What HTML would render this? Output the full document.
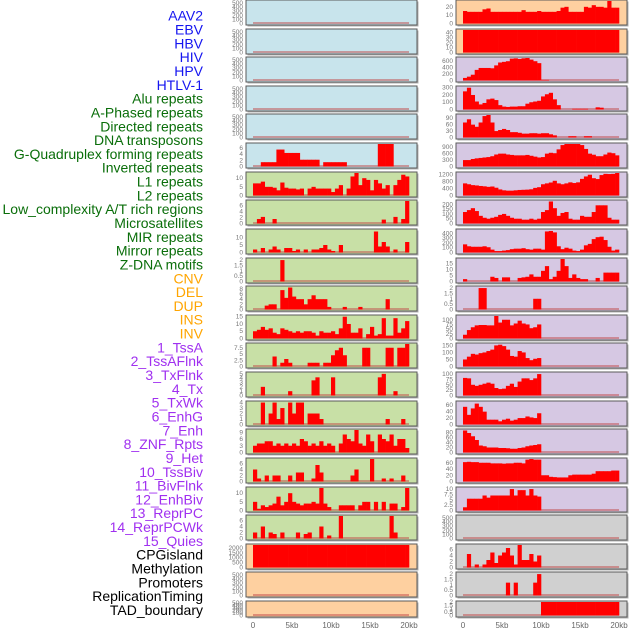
<!DOCTYPE html>
<html><head><meta charset="utf-8"><style>
html,body{margin:0;padding:0;background:#fff;width:630px;height:630px;overflow:hidden}
svg{display:block}
.lab{font-family:"Liberation Sans",sans-serif;font-size:14px}
.tk{font-family:"Liberation Sans",sans-serif;font-size:6.5px;fill:#777}
.xt{font-family:"Liberation Sans",sans-serif;font-size:8px;fill:#666}
</style></head><body>
<svg id="chart" width="630" height="630" viewBox="0 0 630 630" xmlns="http://www.w3.org/2000/svg"></svg>
<script>
const labels = ["AAV2","EBV","HBV","HIV","HPV","HTLV-1","Alu repeats","A-Phased repeats","Directed repeats","DNA transposons","G-Quadruplex forming repeats","Inverted repeats","L1 repeats","L2 repeats","Low_complexity A/T rich regions","Microsatellites","MIR repeats","Mirror repeats","Z-DNA motifs","CNV","DEL","DUP","INS","INV","1_TssA","2_TssAFlnk","3_TxFlnk","4_Tx","5_TxWk","6_EnhG","7_Enh","8_ZNF_Rpts","9_Het","10_TssBiv","11_BivFlnk","12_EnhBiv","13_ReprPC","14_ReprPCWk","15_Quies","CPGisland","Methylation","Promoters","ReplicationTiming","TAD_boundary"];
const labelColors = ["#1515f0","#1515f0","#1515f0","#1515f0","#1515f0","#1515f0","#0a6e0a","#0a6e0a","#0a6e0a","#0a6e0a","#0a6e0a","#0a6e0a","#0a6e0a","#0a6e0a","#0a6e0a","#0a6e0a","#0a6e0a","#0a6e0a","#0a6e0a","#ffa500","#ffa500","#ffa500","#ffa500","#ffa500","#a030f0","#a030f0","#a030f0","#a030f0","#a030f0","#a030f0","#a030f0","#a030f0","#a030f0","#a030f0","#a030f0","#a030f0","#a030f0","#a030f0","#a030f0","#000","#000","#000","#000","#000"];
const xTickKb = [0,5,10,15,20];
const xTickLabels = ["0","5kb","10kb","15kb","20kb"];

const tkEmpty = [0,100,200,300,400,500];
const L5 = [0,0,1.4,1.4,1.4,1.4,5.5,5.5,4.4,4.4,4.4,4.4,2.2,2.2,2.2,2.2,2.2,0,1.4,1.4,1.4,1.4,1.4,1.4,0,0,0,0,0,0,0,0,7.5,7.5,7.5,7.5,0,0,0,0];
const L6 = [7,7,8,5,5,4.5,3,7.5,4.5,4,4,3.5,4,0,4,5,4,4,4,4,2,4,6,0,4,11,13,6,10,9,3,9,7,4,6,0,6,9,12,11];
const L7 = [0,1.5,2.2,0,0,1.5,0,0,0,0,0,0,0,0,0,0,0,0,0,0,0,0,0,0,0,0,0,0,0,0,0,0,0,1.3,0,0,2.2,0,1.5,7.5];
const L8 = [2,0,3,0,2,4,2,0,3,3,1,2,0,2,0,2,2,3,5,2,1,0,5,0,0,0,0,0,0,0,0,14,4,7,4,0,2,0,0,7];
const L9 = [0,0,0,0,0,0,0,2,0,0,0,0,0,0,0,0,0,0,0,0,0,0,0,0,0,0,0,0,0,0,0,0,0,0,0,0,0,0,0,0];
const L10 = [0,0,0,1.5,2,2,0,7.5,4.5,8.5,5,4,4,2,4,5.5,4,4,4,1,0,0,0,1,0,0,0,1,0,0,0,0,0,0,4,0,0,0,0,0];
const L11 = [5,6,8,6,7,4,3,7,6,5,4,5,4,5,5,4,2,5,4,4,5,3,7,15,10,4,4,7,0,3,8,2,3,14,2,2,14,4,7,12];
const L12 = [0,0,0,0,0,4,0,1.5,3,1.5,0,0,0,0,1.5,1.5,1.5,0,1.5,1.5,4.5,6.5,7.5,4.5,0,0,0,0,7.5,7.5,0,0,0,0,7.5,7.5,0,7.5,7.5,9];
const L13 = [0,0,2,0,0,0,0,0,0,1,0,0,0,0,0,3.5,4.2,0,0,0,4.2,0,0,0,0,0,0,0,0,0,0,0,4.2,5,0,0,1,0,0,0];
const L14 = [0,0,4,0,2,4,1,3,0,4,2,4,4,0,2,2,2,1,0,0,0,0,0,0,0,0,0,0,0,0,0,0,0,0,1,0,0,0,1,0];
const L15 = [3,4,4,5,5,3,4,3,4,3,4,3,6,5,3,4,3,5,3,4,3,0,4,8,6,5,10,4,3,8,5,0,8,6,5,8,3,6,6,2];
const L16 = [4,1,0,2,0,2,2,0,0,2,0,3,3,0,0,1,5.5,3,0,0,0,0,0,0,0,2,4,0,0,0,7.5,0,0,1,0,1,0,0,2,0];
const L17 = [5,1,3,2,3,4,8,3,5,10,5,4,3,4,4,5,4,13,4,2,0,0,3,3,3,3,0,3,5,5,0,5,0,5,0,4,4,0,2,13];
const L18 = [2,0,4,0,2,1.5,0,2,0,0,0,2,0,1.5,2,0,0,4,0,1,0,0,7.5,0,0,0,0,0,0,0,0,0,0,0,0,7.5,2,0,0,0];
const L19 = [2300,2300,2300,2300,2300,2300,2300,2300,2300,2300,2300,2300,2300,2300,2300,2300,2300,2300,2300,2300,2300,2300,2300,2300,2300,2300,2300,2300,2300,2300,2300,2300,2300,2300,2300,2300,2300,2300,2300,2300];

const R0 = [15,14,14,14,14,17,18,14,14,14,14,14,14,14,14,16,14,14,14,15,14,14,14,14,15,19,20,14,14,14,14,20,19,22,20,20,19,27,19,19];
const R1 = [45,45,45,45,45,45,45,45,45,45,45,45,45,45,45,45,45,45,45,45,45,45,45,45,45,45,45,45,45,45,45,45,45,45,45,45,45,45,45,45];
const R2 = [80,120,180,330,390,390,390,380,470,560,580,600,680,690,670,690,700,650,600,540,20,20,0,0,0,0,0,0,0,0,0,0,0,0,0,0,0,0,0,0];
const R3 = [250,300,200,110,70,90,140,150,130,60,40,35,40,40,45,45,80,100,110,120,180,210,230,140,60,0,0,0,10,10,10,10,0,0,30,25,0,0,0,0];
const R4 = [70,85,60,50,70,100,105,70,30,35,40,35,25,25,22,18,18,20,20,18,20,20,15,10,0,0,0,6,6,0,0,6,6,0,0,0,0,0,0,0];
const R5 = [300,300,350,380,400,420,440,480,560,600,600,560,540,520,520,520,540,500,460,420,440,600,640,620,800,1000,1050,1050,1050,1050,1000,820,600,550,480,480,560,650,620,520];
const R6 = [700,650,600,580,550,530,500,520,450,350,300,280,280,300,320,330,340,360,440,480,650,700,750,850,700,650,700,760,720,760,960,1100,1200,1000,950,1180,1250,1240,1250,1300];
const R7 = [120,140,160,130,80,60,50,60,70,90,100,80,60,50,50,40,40,50,40,50,120,140,230,160,80,110,120,50,40,40,80,70,70,120,190,190,190,60,40,40];
const R8 = [170,130,120,120,120,130,110,60,30,30,40,50,70,80,80,90,70,60,80,80,60,440,450,420,130,70,100,80,40,30,60,150,180,280,320,330,260,120,40,60];
const R9 = [2,0,0,0,0,0,0,4,3,0,3.5,3.5,0,0,3,3.5,4,6,4,4,9,13,2,4,9,19,13,3,6,3,2,2,0,0,3,0,7.5,7.5,7.5,7.5];
const R10 = [0,0,0,0,2,2,0,0,0,0,0,0,0,0,0,0,0,0,1,1,0,0,0,0,0,0,0,0,0,0,0,0,0,0,0,0,0,0,0,0];
const R11 = [20,45,60,70,72,72,70,70,120,85,100,100,70,80,95,80,75,55,60,75,0,0,0,0,0,0,0,0,0,0,0,0,0,0,0,0,0,0,0,0];
const R12 = [50,70,90,85,95,100,110,120,150,155,145,120,75,70,110,100,60,45,55,60,0,0,0,0,0,0,0,0,0,0,0,0,0,0,0,0,0,0,0,0];
const R13 = [82,80,50,45,50,55,60,55,35,30,32,45,55,40,65,80,80,72,80,100,0,0,0,0,0,0,0,0,0,0,0,0,0,0,0,0,0,0,0,0];
const R14 = [55,30,50,65,55,40,15,15,15,10,15,18,12,15,20,20,25,22,20,35,0,0,0,0,0,0,0,0,0,0,0,0,0,0,0,0,0,0,0,0];
const R15 = [88,78,65,50,28,25,20,20,20,18,18,17,15,15,18,20,25,28,30,33,0,0,0,0,0,0,0,0,0,0,0,0,0,0,0,0,0,0,0,0];
const R16 = [62,63,62,62,60,60,60,58,58,58,57,58,58,60,60,58,70,72,70,70,20,20,15,14,13,13,13,20,22,22,22,22,22,25,33,33,33,33,35,35];
const R17 = [1.5,5.5,5.5,5.5,5.5,7,6,7,7,7,7,7,10,7,9.5,9.5,7,10,7,6.5,0,0,0,0,0,0,0,0,0,0,0,0,0,0,0,0,0,0,0,0];
const R19 = [0,4.5,0,1,0,1,2.5,5,1.5,4,5,6.5,4,1,7.5,2.5,2.5,4.5,2,4,0,0,0,0,0,0,0,0,0,0,0,0,0,0,0,0,0,0,0,0];
const R20 = [0,0,0,0,0,0,0,0,0,0,0,1.2,0,1.2,0,0,0,0,1.2,2,0,0,0,0,0,0,0,0,0,0,0,0,0,0,0,0,0,0,0];
const R21 = [0,0,0,0,0,0,0,0,0,0,0,0,0,0,0,0,0,0,0,0,2,2,2,2,2,2,2,2,2,2,2,2,2,2,2,2,2,2,2,2];

const BLUE="#c8e4ec", GREEN="#c8e0a6", ORANGE="#fed0a0", PURPLE="#d6c8e3", GRAY="#d0d0d0";
const leftPanels = [
 {bg:BLUE,v:[],t:tkEmpty,m:550},{bg:BLUE,v:[],t:tkEmpty,m:550},{bg:BLUE,v:[],t:tkEmpty,m:550},{bg:BLUE,v:[],t:tkEmpty,m:550},{bg:BLUE,v:[],t:tkEmpty,m:550},
 {bg:BLUE,v:L5,t:[0,2,4,6],m:7.3},
 {bg:GREEN,v:L6,t:[0,5,10],m:13},{bg:GREEN,v:L7,t:[0,2,4,6],m:7.5},{bg:GREEN,v:L8,t:[0,5,10],m:15},
 {bg:GREEN,v:L9,t:[0,0.5,1,1.5,2],m:2.1},{bg:GREEN,v:L10,t:[0,2,4,6,8],m:8.7},{bg:GREEN,v:L11,t:[0,5,10,15],m:15.5},
 {bg:GREEN,v:L12,t:[0,2.5,5,7.5],m:9},{bg:GREEN,v:L13,t:[0,1,2,3,4,5],m:5.2},{bg:GREEN,v:L14,t:[0,1,2,3,4],m:4.1},
 {bg:GREEN,v:L15,t:[0,3,6,9],m:10},{bg:GREEN,v:L16,t:[0,2,4,6],m:7.5},{bg:GREEN,v:L17,t:[0,5,10],m:13},{bg:GREEN,v:L18,t:[0,2,4,6],m:7.5},
 {bg:ORANGE,v:L19,t:[0,500,1000,1500,2000],m:2300},{bg:ORANGE,v:[],t:tkEmpty,m:550},{bg:ORANGE,v:[],t:tkEmpty,m:550}
];
const rightPanels = [
 {bg:ORANGE,v:R0,t:[0,10,20],m:27},{bg:ORANGE,v:R1,t:[0,10,20,30,40],m:45},
 {bg:PURPLE,v:R2,t:[0,200,400,600],m:700},{bg:PURPLE,v:R3,t:[0,100,200,300],m:310},{bg:PURPLE,v:R4,t:[0,30,60,90],m:105},
 {bg:PURPLE,v:R5,t:[0,300,600,900],m:1050},{bg:PURPLE,v:R6,t:[0,400,800,1200],m:1300},{bg:PURPLE,v:R7,t:[0,50,100,150,200],m:235},
 {bg:PURPLE,v:R8,t:[0,100,200,300,400],m:470},{bg:PURPLE,v:R9,t:[0,5,10,15],m:19},{bg:PURPLE,v:R10,t:[0,0.5,1,1.5,2],m:2.1},
 {bg:PURPLE,v:R11,t:[0,25,50,75,100],m:120},{bg:PURPLE,v:R12,t:[0,50,100,150],m:160},{bg:PURPLE,v:R13,t:[0,25,50,75,100],m:105},
 {bg:PURPLE,v:R14,t:[0,20,40,60],m:70},{bg:PURPLE,v:R15,t:[0,20,40,60,80],m:90},{bg:PURPLE,v:R16,t:[0,20,40,60],m:72},
 {bg:PURPLE,v:R17,t:[0,2.5,5,7.5,10],m:10.5},
 {bg:GRAY,v:[],t:tkEmpty,m:550},{bg:GRAY,v:R19,t:[0,2,4,6],m:7.5},{bg:GRAY,v:R20,t:[0,0.5,1,1.5,2],m:2.1},{bg:GRAY,v:R21,t:[0,0.5,1,1.5,2],m:2}
];

const NS="http://www.w3.org/2000/svg";
const svg=document.getElementById("chart");
function mk(tag,attrs,parent){const e=document.createElementNS(NS,tag);for(const k in attrs)e.setAttribute(k,attrs[k]);(parent||svg).appendChild(e);return e;}

labels.forEach((s,i)=>{
  const t=mk("text",{x:203,y:17+i*13.82,"text-anchor":"end","dominant-baseline":"middle",class:"lab",fill:labelColors[i]});
  
  
  t.textContent=s;
});

function rowY(r){return Math.round(r*28.62);}
function rowH(r){return r===21?16:25;}
function xScale(kb,col){const x0=col===0?253:463;return x0+kb*7.8;}

function drawPanel(p,r,col){
  const px=col===0?246:456, py=rowY(r), w=171, h=rowH(r);
  const g=mk("g",{});
  
  
  mk("rect",{x:px+1.5,y:py+1.5,width:w,height:h,fill:"#b0b0b0"},g);
  const bg=mk("rect",{x:px,y:py,width:w,height:h,fill:p.bg,stroke:"#5a5a5a","stroke-width":1},g);
  
  
  const base=py+h-1.5, span=h-2.5;
  const yS=v=>base-Math.min(v,p.m)/p.m*span;
  mk("rect",{x:xScale(0,col),y:base-1.2,width:xScale(20,col)-xScale(0,col),height:1.4,fill:"#c04848","fill-opacity":0.7},g);
  const n=40, bw=20/n;
  p.v.forEach((v,i)=>{
    if(!v)return;
    const x1=xScale(i*bw,col), x2=xScale((i+1)*bw,col);
    const b=mk("rect",{x:x1,y:yS(v),width:x2-x1+0.3,height:base-yS(v),fill:"#ff0000"},g);
    
    
  });
  p.t.forEach(t=>{
    const tx=mk("text",{x:px-3,y:yS(t)+2,"text-anchor":"end",class:"tk"},g);
    
    
    tx.textContent=String(t);
  });
}
leftPanels.forEach((p,r)=>drawPanel(p,r,0));
rightPanels.forEach((p,r)=>drawPanel(p,r,1));

[0,1].forEach(col=>{
  xTickKb.forEach((kb,i)=>{
    const t=mk("text",{x:xScale(kb,col),y:628,"text-anchor":"middle",class:"xt"});
    
    
    t.textContent=xTickLabels[i];
  });
});
</script>
</body></html>
